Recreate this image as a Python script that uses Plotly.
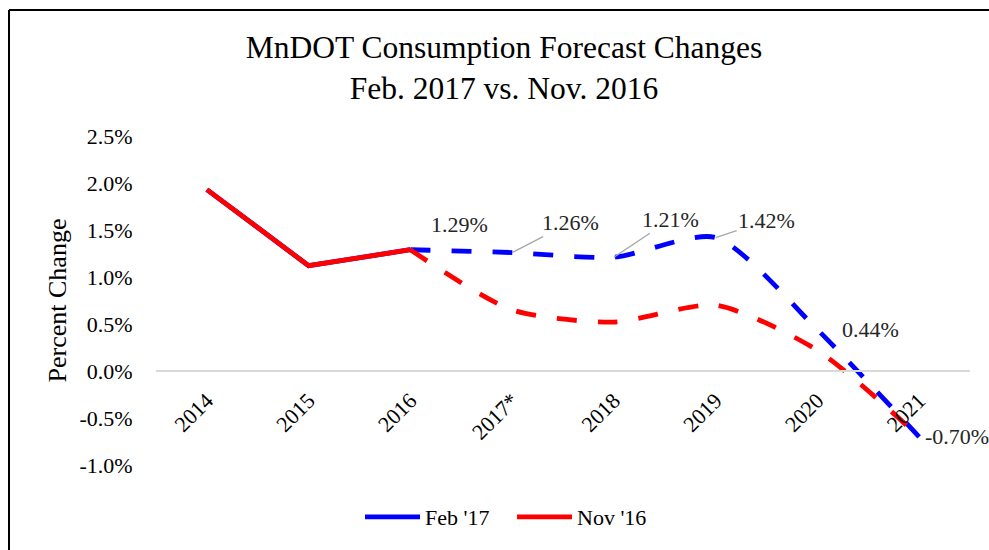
import plotly.graph_objects as go

# ---- data ----
years = ["2014", "2015", "2016", "2017*", "2018", "2019", "2020", "2021"]
feb17 = [0.0193, 0.0112, 0.0129, 0.0126, 0.0121, 0.0142, 0.0044, -0.0070]
nov16 = [0.0193, 0.0112, 0.0129, 0.0065, 0.0052, 0.0070, 0.0022, -0.0070]
ytick_vals = [-0.01, -0.005, 0.0, 0.005, 0.01, 0.015, 0.02, 0.025]
ytick_text = ["-1.0%", "-0.5%", "0.0%", "0.5%", "1.0%", "1.5%", "2.0%", "2.5%"]
series_names = ["Feb '17", "Nov '16"]

# ---- style ----
FONT = "Liberation Serif, Times New Roman, serif"
BLUE = "#0000ff"
RED = "#ff0000"
LW = 4.8
DASH = "20px,21px"
SMOOTH = 0.7
last_actual = 2  # index of 2016: solid up to here, dashed (forecast) after

# page body margin is removed in post_script, so figure pixels == page pixels
W, H = 989, 550
L, T = 156, 136
R = W - 970
B = H - 465
pw, ph = W - L - R, H - T - B


def px_x(px):  # reference pixel -> paper x
    return (px - L) / pw


def px_y(py):  # reference pixel -> paper y
    return (H - B - py) / ph


fig = go.Figure()

# solid (actual) parts – carry the legend entries
fig.add_trace(go.Scatter(x=years[:last_actual + 1], y=feb17[:last_actual + 1], mode="lines",
                         name=series_names[0], line=dict(color=BLUE, width=LW),
                         hoverinfo="skip"))
fig.add_trace(go.Scatter(x=years[:last_actual + 1], y=nov16[:last_actual + 1], mode="lines",
                         name=series_names[1], line=dict(color=RED, width=LW),
                         hoverinfo="skip"))
# dashed (forecast) parts
fig.add_trace(go.Scatter(x=years[last_actual:], y=feb17[last_actual:], mode="lines",
                         name=series_names[0], showlegend=False,
                         line=dict(color=BLUE, width=LW, dash=DASH, shape="spline", smoothing=SMOOTH),
                         hoverinfo="skip"))
fig.add_trace(go.Scatter(x=years[last_actual:], y=nov16[last_actual:], mode="lines",
                         name=series_names[1], showlegend=False,
                         line=dict(color=RED, width=LW, dash=DASH, shape="spline", smoothing=SMOOTH),
                         hoverinfo="skip"))

# data labels for Feb '17 forecast points: (dx, dy, leader line)
label_offsets = {2: (49, -25, False), 3: (58, -30, True), 4: (57, -38, True),
                 5: (51, -17, True), 6: (53, 0, False), 7: (38, 0, False)}
for i, (dx, dy, leader) in label_offsets.items():
    txt = f"{feb17[i] * 100:.2f}%"
    if leader:
        fig.add_annotation(x=i, y=feb17[i], text=txt, showarrow=True,
                           ax=dx, ay=dy, arrowhead=0, arrowwidth=1.3,
                           arrowcolor="#a6a6a6", standoff=0,
                           font=dict(family=FONT, size=22, color="#262626"))
    else:
        fig.add_annotation(x=i, y=feb17[i], text=txt, showarrow=False,
                           xshift=dx, yshift=-dy,
                           font=dict(family=FONT, size=22, color="#262626"))

# chart border: only left and top edges are visible in the reference
fig.add_shape(type="line", xref="paper", yref="paper",
              x0=px_x(9), x1=px_x(9), y0=px_y(580), y1=px_y(10),
              line=dict(color="black", width=2))
fig.add_shape(type="line", xref="paper", yref="paper",
              x0=px_x(9), x1=px_x(1020), y0=px_y(10), y1=px_y(10),
              line=dict(color="black", width=2))

y_min, y_max = -0.01, 0.025
zero_pos = (0 - y_min) / (y_max - y_min)

fig.update_layout(
    width=W, height=H,
    margin=dict(l=L, r=R, t=T, b=B, pad=0),
    paper_bgcolor="white", plot_bgcolor="white",
    font=dict(family=FONT, size=22, color="#000000"),
    title=dict(text="MnDOT Consumption Forecast Changes<br>Feb. 2017 vs. Nov. 2016",
               x=504 / W, xanchor="center", xref="container",
               y=1 - 58 / H, yanchor="middle", yref="container",
               font=dict(family=FONT, size=31.5, color="#000000")),
    showlegend=True,
    legend=dict(orientation="h", x=px_x(360), xanchor="left", y=px_y(517), yanchor="middle",
                font=dict(family=FONT, size=22, color="#000000"),
                bgcolor="rgba(0,0,0,0)", tracegroupgap=0,
                itemwidth=55, entrywidth=82, entrywidthmode="pixels"),
    xaxis=dict(type="category", range=[-0.5, 7.5], anchor="free", position=zero_pos,
               showline=True, linecolor="#d9d9d9", linewidth=2,
               showgrid=False, zeroline=False, tickangle=-45,
               ticks="outside", ticklen=7, tickcolor="rgba(0,0,0,0)",
               tickfont=dict(family=FONT, size=22, color="#000000")),
    yaxis=dict(range=[y_min, y_max], tickvals=ytick_vals, ticktext=ytick_text,
               showgrid=False, zeroline=False, showline=False,
               ticks="outside", ticklen=18, tickcolor="rgba(0,0,0,0)",
               tickfont=dict(family=FONT, size=22, color="#000000"),
               title=dict(text="Percent Change", standoff=5,
                          font=dict(family=FONT, size=26, color="#000000"))),
)

fig.write_html("out.html", config={"displayModeBar": False},
               post_script="document.body.style.margin='0';document.body.style.overflow='hidden';")
